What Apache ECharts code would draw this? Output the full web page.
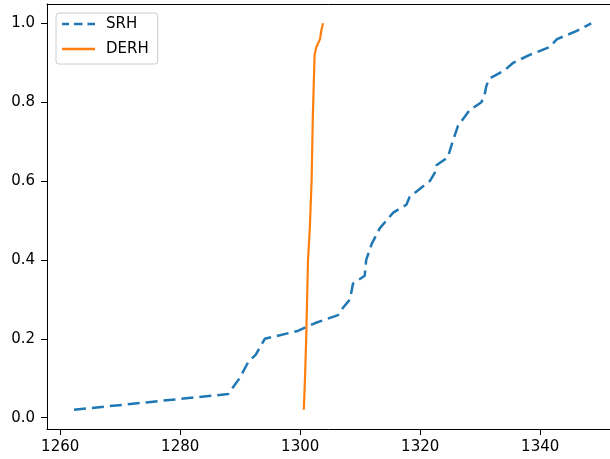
<!DOCTYPE html>
<html>
<head>
<meta charset="utf-8">
<script src="https://cdn.jsdelivr.net/npm/echarts@6/dist/echarts.min.js"></script>
<style>
html,body{margin:0;padding:0;background:#fff;}
#chart{width:610px;height:459px;}
</style>
</head>
<body>
<div id="chart"></div>
<script>
const seriesNames = ['SRH', 'DERH'];

const srhX = [1262.3, 1275.1, 1288.0, 1289.9, 1291.3, 1292.6, 1294.1, 1299.6, 1302.5, 1306.3,
              1307.2, 1308.3, 1308.8, 1310.75, 1311.0, 1311.9, 1313.25, 1315.5, 1317.7, 1318.25,
              1321.6, 1322.4, 1322.7, 1324.6, 1325.4, 1326.3, 1328.25, 1330.2, 1330.75, 1331.0,
              1331.5, 1334.0, 1335.5, 1338.25, 1341.6, 1342.8, 1346.0, 1348.5];
const srhY = [0.02, 0.04, 0.06, 0.10, 0.14, 0.16, 0.20, 0.22, 0.24, 0.26,
              0.28, 0.30, 0.34, 0.36, 0.40, 0.44, 0.48, 0.52, 0.54, 0.56,
              0.60, 0.62, 0.64, 0.66, 0.70, 0.74, 0.78, 0.80, 0.82, 0.84,
              0.86, 0.88, 0.90, 0.92, 0.94, 0.96, 0.98, 1.00];

const derhX = [1300.6, 1300.8, 1301.0, 1301.3, 1301.6, 1301.9, 1302.1, 1302.4, 1302.7, 1303.3, 1303.5, 1303.8];
const derhY = [0.02, 0.10, 0.20, 0.40, 0.48, 0.60, 0.76, 0.92, 0.94, 0.96, 0.98, 1.00];

const xTicks = [1260, 1280, 1300, 1320, 1340];
const yTicks = [0.0, 0.2, 0.4, 0.6, 0.8, 1.0];

const srhData = srhX.map((x, i) => [x, srhY[i]]);
const derhData = derhX.map((x, i) => [x, derhY[i]]);

const chart = echarts.init(document.getElementById('chart'), null, {renderer: 'canvas'});
const font = 'DejaVu Sans';
const X_MIN = 1257.8, X_MAX = 1352.8;
chart.setOption({
  animation: false,
  backgroundColor: '#ffffff',
  grid: {
    left: 47, top: 4, width: 570, height: 425,
    show: false, outerBoundsMode: 'none', containLabel: false
  },
  legend: {
    orient: 'vertical',
    left: 56, top: 13,
    padding: [3, 9, 7, 6],
    itemWidth: 33, itemHeight: 2.4,
    itemGap: 9,
    backgroundColor: 'rgba(255,255,255,0.8)',
    borderColor: '#cccccc', borderWidth: 1, borderRadius: 3,
    textStyle: {fontFamily: font, fontSize: 15, color: '#000', lineHeight: 16, padding: [0, 0, 0, 6]},
    data: [
      {name: seriesNames[0], icon: 'path://M0,0h7v2.4h-7z M12,0h8.5v2.4h-8.5z M25.5,0h7.5v2.4h-7.5z'},
      {name: seriesNames[1], icon: 'path://M0,0h33v2.4h-33z'}
    ]
  },
  xAxis: [{
    type: 'value',
    min: X_MIN, max: X_MAX,
    axisLine: {show: true, onZero: false, lineStyle: {color: '#000', width: 1}},
    axisTick: {show: true, length: 6, lineStyle: {color: '#000'}, customValues: xTicks},
    axisLabel: {fontFamily: font, fontSize: 15, color: '#000', margin: 11, customValues: xTicks,
                formatter: v => String(v)},
    splitLine: {show: false}
  }, {
    type: 'value', position: 'top',
    min: X_MIN, max: X_MAX,
    axisLine: {show: true, onZero: false, lineStyle: {color: '#000', width: 1}},
    axisTick: {show: false}, axisLabel: {show: false}, splitLine: {show: false}
  }],
  yAxis: {
    type: 'value',
    min: -0.0287, max: 1.049,
    axisLine: {show: true, onZero: false, lineStyle: {color: '#000', width: 1}},
    axisTick: {show: true, length: 6, lineStyle: {color: '#000'}, customValues: yTicks},
    axisLabel: {fontFamily: font, fontSize: 15, color: '#000', margin: 12, customValues: yTicks,
                formatter: v => Number(v).toFixed(1)},
    splitLine: {show: false}
  },
  series: [
    {
      name: seriesNames[0], type: 'line', data: srhData, symbol: 'none', showSymbol: false,
      color: '#1f77b4', itemStyle: {color: '#1f77b4'},
      lineStyle: {color: '#1f77b4', width: 2.5, type: [12, 6], cap: 'butt'}
    },
    {
      name: seriesNames[1], type: 'line', data: derhData, symbol: 'none', showSymbol: false,
      color: '#ff7f0e', itemStyle: {color: '#ff7f0e'},
      lineStyle: {color: '#ff7f0e', width: 2.2, type: 'solid'}
    }
  ]
});
</script>
</body>
</html>
